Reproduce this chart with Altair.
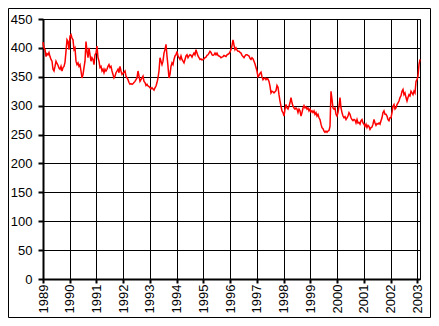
import altair as alt
import numpy as np
import pandas as pd

# Gold price (USD/oz), read roughly every two weeks from the reference, Jan 1989 .. early Feb 2003
prices_1989_1995 = [
    410, 400, 397, 385, 390, 388, 392, 385, 380, 377,
    363, 360, 368, 377, 373, 370, 365, 363, 368, 360,
    366, 368, 375, 394, 414, 411, 397, 420, 423, 417,
    414, 397, 400, 377, 371, 374, 368, 371, 360, 348,
    354, 366, 377, 411, 394, 383, 400, 388, 377, 383,
    380, 371, 388, 391, 403, 383, 377, 366, 368, 360,
    363, 357, 363, 360, 363, 368, 371, 366, 368, 360,
    354, 348, 351, 357, 360, 363, 357, 368, 360, 354,
    356, 358, 360, 351, 348, 345, 340, 337, 338, 337,
    338, 340, 342, 345, 348, 360, 351, 342, 345, 348,
    351, 342, 340, 335, 337, 334, 333, 331, 329, 331,
    329, 327, 331, 334, 340, 348, 360, 383, 377, 371,
    377, 391, 397, 406, 386, 368, 348, 354, 368, 374,
    371, 380, 386, 388, 394, 386, 383, 380, 386, 380,
    377, 374, 380, 386, 388, 383, 386, 388, 387, 384,
    388, 391, 388, 397, 391, 386, 383, 380, 381, 379,
    380, 381, 383, 384, 387, 388, 391, 394, 392, 388,
    387, 388, 391, 388, 391, 387, 386,
]
prices_1995_2003 = [
    385, 383, 384, 385, 387, 386, 385, 388, 389, 390,
    393, 397, 404, 414, 405, 397, 400, 396, 394, 394,
    392, 391, 387, 385, 383, 386, 388, 388, 387, 386,
    382, 380, 383, 381, 377, 372, 366, 360, 350, 352,
    356, 358, 350, 345, 347, 348, 345, 347, 346, 342,
    334, 322, 325, 324, 322, 324, 326, 335, 332, 319,
    308, 299, 291, 288, 282, 294, 302, 296, 294, 299,
    305, 314, 305, 299, 296, 294, 296, 294, 288, 294,
    291, 282, 288, 296, 300, 296, 298, 294, 296, 291,
    294, 289, 291, 288, 291, 285, 288, 282, 285, 279,
    276, 268, 262, 260, 256, 254, 256, 254, 256, 257,
    264, 325, 311, 296, 294, 296, 285, 282, 288, 299,
    314, 296, 288, 282, 279, 281, 276, 279, 282, 288,
    285, 279, 276, 274, 276, 275, 270, 276, 270, 271,
    268, 274, 276, 270, 268, 264, 268, 262, 266, 264,
    259, 262, 263, 268, 276, 270, 266, 269, 268, 270,
    268, 274, 279, 288, 291, 285, 285, 282, 276, 274,
    279, 279, 288, 299, 302, 294, 296, 302, 305, 308,
    314, 317, 325, 328, 319, 322, 314, 308, 314, 319,
    317, 325, 322, 319, 325, 322, 342, 345, 351, 371,
    380,
]
prices = prices_1989_1995 + prices_1995_2003
start_year = 1989.0
end_year = 2003.1
years = np.linspace(start_year, end_year, len(prices))

year_ticks = list(range(1989, 2004))
value_ticks = list(range(0, 451, 50))

df = pd.DataFrame({"year": years, "price": prices})

font = "Liberation Sans"

line = alt.Chart(df).mark_line(color="#ff0000", strokeWidth=1.5).encode(
    x=alt.X(
        "year:Q",
        scale=alt.Scale(domain=[start_year, end_year], nice=False, zero=False),
        axis=alt.Axis(
            values=year_ticks, format="d", title=None, labelAngle=-90,
            labelFont=font, labelFontSize=13, labelColor="black",
            domainColor="black", domainWidth=2, tickColor="black", tickWidth=2,
            tickSize=4, labelPadding=1, grid=True, gridColor="black",
            gridWidth=1, gridOpacity=1, labelFlush=False, labelOverlap=False,
        ),
    ),
    y=alt.Y(
        "price:Q",
        scale=alt.Scale(domain=[0, 450], nice=False),
        axis=alt.Axis(
            values=value_ticks, title=None, labelFont=font, labelFontSize=13,
            labelColor="black", domainColor="black", domainWidth=2,
            tickColor="black", tickWidth=2, tickSize=5, labelPadding=6,
            grid=True, gridColor="black", gridWidth=1, gridOpacity=1,
            labelFlush=False, labelOverlap=False,
        ),
    ),
)

frame = alt.Chart(pd.DataFrame({"a": [0]})).mark_rect(
    fill=None, stroke="black", strokeWidth=1
).encode(
    x=alt.value(-34.5), x2=alt.value(387.5), y=alt.value(-10.5), y2=alt.value(298.5)
)

chart = alt.layer(line, frame).properties(
    width=377,
    height=260,
    autosize=alt.AutoSizeParams(type="none"),
    padding={"left": 35, "top": 11, "right": 11, "bottom": 39},
    background="white",
).configure_view(stroke="black", strokeWidth=1)

chart.save("out.html", embed_options={"renderer": "svg", "actions": False})
